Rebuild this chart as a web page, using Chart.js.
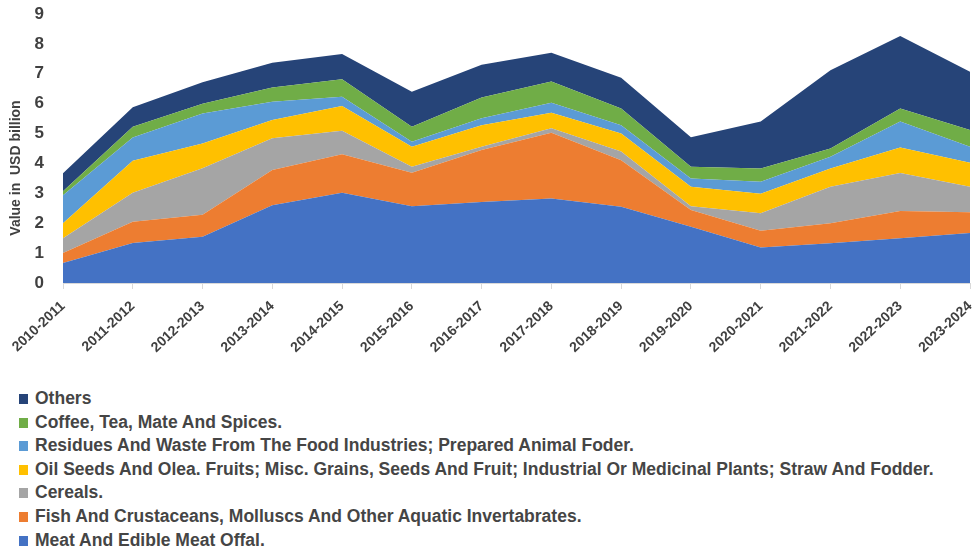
<!DOCTYPE html>
<html>
<head>
<meta charset="utf-8">
<script src="https://cdn.jsdelivr.net/npm/chart.js@4.4.1/dist/chart.umd.min.js"></script>
<style>
  html, body { margin: 0; padding: 0; background: #fff; }
  #wrap { position: relative; width: 973px; height: 547px; overflow: hidden; }
  #chartBox { position: absolute; left: 0; top: 0; width: 973px; height: 380px; }
  #legend { position: absolute; left: 19px; top: 387px; font-family: "Liberation Sans", Arial, sans-serif; font-size: 17.5px; font-weight: bold; color: #454545; }
  #legend div { height: 23.6px; line-height: 23.6px; white-space: nowrap; }
  #legend span.box { display: inline-block; width: 9px; height: 10px; margin-right: 7px; vertical-align: 0px; }
</style>
</head>
<body>
<div id="wrap">
  <div id="chartBox"><canvas id="area_chart"></canvas></div>
  <div id="legend"></div>
</div>
<script>
const years = ["2010-2011", "2011-2012", "2012-2013", "2013-2014", "2014-2015", "2015-2016", "2016-2017",
  "2017-2018", "2018-2019", "2019-2020", "2020-2021", "2021-2022", "2022-2023", "2023-2024"];

// values in USD billion, bottom layer first
const meat     = [0.67, 1.34, 1.55, 2.60, 3.02, 2.57, 2.71, 2.83, 2.55, 1.88, 1.19, 1.33, 1.50, 1.67];
const fish     = [0.33, 0.71, 0.73, 1.18, 1.29, 1.12, 1.74, 2.20, 1.56, 0.56, 0.56, 0.67, 0.91, 0.70];
const cereals  = [0.50, 0.97, 1.56, 1.06, 0.78, 0.20, 0.11, 0.15, 0.29, 0.13, 0.58, 1.22, 1.27, 0.85];
const oilSeeds = [0.50, 1.07, 0.83, 0.61, 0.83, 0.67, 0.72, 0.52, 0.60, 0.65, 0.66, 0.61, 0.85, 0.80];
const residues = [0.94, 0.78, 1.00, 0.61, 0.31, 0.17, 0.23, 0.33, 0.28, 0.28, 0.40, 0.39, 0.87, 0.54];
const coffee   = [0.13, 0.36, 0.33, 0.48, 0.59, 0.50, 0.70, 0.71, 0.56, 0.39, 0.44, 0.28, 0.44, 0.56];
const others   = [0.60, 0.65, 0.72, 0.83, 0.84, 1.17, 1.09, 0.96, 1.03, 0.99, 1.57, 2.62, 2.42, 1.95];

const yTicks = [0, 1, 2, 3, 4, 5, 6, 7, 8, 9];

const series = [
  { label: "Meat And Edible Meat Offal.", data: meat, color: "#4472C4" },
  { label: "Fish And Crustaceans, Molluscs And Other Aquatic Invertabrates.", data: fish, color: "#ED7D31" },
  { label: "Cereals.", data: cereals, color: "#A5A5A5" },
  { label: "Oil Seeds And Olea. Fruits; Misc. Grains, Seeds And Fruit; Industrial Or Medicinal Plants; Straw And Fodder.", data: oilSeeds, color: "#FFC000" },
  { label: "Residues And Waste From The Food Industries; Prepared Animal Foder.", data: residues, color: "#5B9BD5" },
  { label: "Coffee, Tea, Mate And Spices.", data: coffee, color: "#70AD47" },
  { label: "Others", data: others, color: "#264478" }
];

Chart.defaults.font.family = "'Liberation Sans', Arial, sans-serif";

const datasets = series.map((s, i) => ({
  label: s.label,
  data: s.data,
  backgroundColor: s.color,
  borderColor: s.color,
  borderWidth: 0,
  pointRadius: 0,
  tension: 0,
  fill: i == 0 ? "origin" : "-1"
}));

// y axis title, drawn by hand so it can sit a bit lower like the original
const yTitle = {
  id: "yTitle",
  afterDraw(chart) {
    const ctx = chart.ctx;
    ctx.save();
    ctx.translate(16, 168);
    ctx.rotate(-Math.PI / 2);
    ctx.font = "bold 14px 'Liberation Sans', Arial, sans-serif";
    ctx.fillStyle = "#404040";
    ctx.textAlign = "center";
    ctx.textBaseline = "middle";
    ctx.fillText("Value in  USD billion", 0, 0);
    ctx.restore();
  }
};

new Chart(document.getElementById("area_chart"), {
  type: "line",
  data: { labels: years, datasets: datasets },
  plugins: [yTitle],
  options: {
    responsive: true,
    maintainAspectRatio: false,
    animation: false,
    layout: { padding: { top: 14, right: 3, left: 0, bottom: 0 } },
    plugins: {
      legend: { display: false },
      tooltip: { enabled: false }
    },
    scales: {
      x: {
        offset: false,
        grid: { display: true, drawOnChartArea: false, color: "#d9d9d9", tickLength: 6 },
        border: { display: true, color: "#d9d9d9" },
        ticks: {
          minRotation: 43, maxRotation: 43, autoSkip: false,
          color: "#404040", font: { size: 14, weight: "bold" }, padding: 9
        },
        afterFit: (scale) => {
          scale.height = 97;
          scale.paddingLeft = 0;
          scale.paddingRight = 0;
        }
      },
      y: {
        stacked: true,
        min: 0, max: 9,
        grid: { display: false },
        border: { display: false },
        afterBuildTicks: (scale) => { scale.ticks = yTicks.map(v => ({ value: v })); },
        ticks: { color: "#404040", font: { size: 17, weight: "bold" }, padding: 11 },
        afterFit: (scale) => {
          scale.width = 63;
          scale.paddingTop = 0;
          scale.paddingBottom = 0;
        }
      }
    }
  }
});

// legend, top layer first
const legend = document.getElementById("legend");
series.slice().reverse().forEach(s => {
  const row = document.createElement("div");
  row.innerHTML = '<span class="box" style="background:' + s.color + '"></span>' + s.label;
  legend.appendChild(row);
});
</script>
</body>
</html>
